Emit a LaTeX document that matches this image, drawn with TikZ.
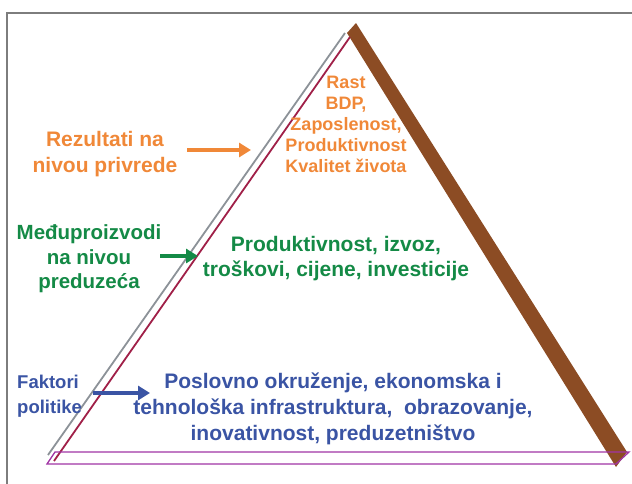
\documentclass[tikz,border=0pt]{standalone}
\usepackage{fontspec}
\setmainfont{Liberation Sans}
\usetikzlibrary{arrows.meta}
\definecolor{orng}{RGB}{240,136,56}
\definecolor{grn}{RGB}{20,138,70}
\definecolor{blu}{RGB}{58,84,164}
\definecolor{brwn}{RGB}{140,76,36}
\definecolor{edgegray}{RGB}{140,146,152}
\definecolor{maroon}{RGB}{160,32,72}
\definecolor{purp}{RGB}{160,52,164}
\definecolor{framegray}{RGB}{125,125,125}
\tikzset{
  lbl/.style={font=\bfseries, align=center, inner sep=0pt},
  arr/.style={line width=4pt, -{Triangle[length=12pt,width=14pt]}},
}
\begin{document}
\begin{tikzpicture}[x=1pt,y=-1pt]
\useasboundingbox (0,0) rectangle (632,483);
% frame
\draw[framegray, line width=1.5pt] (7,490) -- (7,13) -- (640,13);
% brown band
\fill[brwn] (347,33) -- (356,23) -- (627,452) -- (616,467) -- cycle;
% gray and maroon edges
\coordinate (g1) at (345,33);
\coordinate (g2) at (48,455);
\coordinate (r1) at (350,37);
\coordinate (r2) at (54,461);
\draw[edgegray, line width=1.8pt] (g1) -- (g2);
\draw[maroon, line width=1.8pt] (r1) -- (r2);
% purple base
\draw[purp, line width=1.3pt] (47,464) -- (55,452) -- (629,452) -- (616,464) -- cycle;
% texts
\node[lbl, text=orng, font=\bfseries\fontsize{21}{26}\selectfont] (rez) at (105,154) {Rezultati na\\nivou privrede};
\node[lbl, text=orng, font=\bfseries\fontsize{18}{21}\selectfont] (rast) at (346,124) {Rast\\BDP,\\Zaposlenost,\\Produktivnost\\Kvalitet života};
\node[lbl, text=grn, font=\bfseries\fontsize{20.5}{24.5}\selectfont] (medj) at (89,259) {Međuproizvodi\\na nivou\\preduzeća};
\node[lbl, text=grn, font=\bfseries\fontsize{21}{25}\selectfont] (prod) at (336,259) {Produktivnost, izvoz,\\troškovi, cijene, investicije};
\node[lbl, text=blu, align=left, anchor=west, font=\bfseries\fontsize{18.5}{25}\selectfont] (fak) at (17,396) {Faktori\\politike};
\node[lbl, text=blu, font=\bfseries\fontsize{21}{26}\selectfont] (posl) at (333,409) {Poslovno okruženje, ekonomska i\\tehnološka infrastruktura,\ \ obrazovanje,\\inovativnost, preduzetništvo};
% arrows
\coordinate (oa1) at (187,150);
\coordinate (oa2) at (251,150);
\coordinate (ga1) at (160,256);
\coordinate (ga2) at (198,256);
\coordinate (ba1) at (93,393);
\coordinate (ba2) at (150,393);
\draw[arr, orng] (oa1) -- (oa2);
\draw[arr, grn] (ga1) -- (ga2);
\draw[arr, blu] (ba1) -- (ba2);
\end{tikzpicture}
\end{document}
